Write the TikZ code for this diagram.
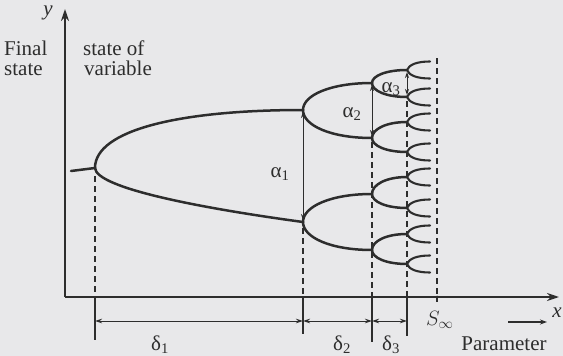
\documentclass[tikz,border=0pt]{standalone}
\usepackage{fontspec}
\setmainfont{Liberation Serif}
\newfontfamily\lbf{Liberation Serif}
\usetikzlibrary{arrows.meta}
\definecolor{ink}{RGB}{45,45,45}
\definecolor{paper}{RGB}{232,232,234}
\begin{document}
\begin{tikzpicture}[x=1pt,y=-1pt,
  branch/.style={line width=2.5pt, draw=ink, line cap=round},
  twig/.style={line width=2.1pt, draw=ink, line cap=round},
  axisline/.style={line width=1.8pt, draw=ink, -{Stealth[length=12pt,width=8pt]}},
  guide/.style={line width=1.4pt, draw=ink, dash pattern=on 6pt off 4pt},
  span/.style={line width=1pt, draw=ink, {Stealth[length=7pt,width=4.5pt]}-{Stealth[length=7pt,width=4.5pt]}},
  gap/.style={line width=1pt, draw=ink, {Stealth[length=6pt,width=4pt]}-{Stealth[length=6pt,width=4pt]}},
  tickline/.style={line width=1.2pt, draw=ink},
  lbl/.style={font=\lbf\fontsize{21}{22}\selectfont, text=ink, inner sep=0pt},
  ilbl/.style={lbl, font=\lbf\fontsize{21}{22}\selectfont\itshape}
]
\fill[paper] (0,0) rectangle (563,356);
\useasboundingbox (0,0) rectangle (563,356);

% axes
\coordinate (O) at (65,297);
\coordinate (ytip) at (65,9);
\coordinate (xtip) at (559,297);
\draw[axisline] (O) -- (ytip);
\draw[axisline] (O) -- (xtip);
\node[ilbl, anchor=base] (ylab) at (48,16) {y};
\node[ilbl, anchor=base] (xlab) at (557,317) {x};

% texts
\node[lbl, anchor=base west] (fs1) at (4,55) {Final};
\node[lbl, anchor=base west] (fs2) at (4,75) {state};
\node[lbl, anchor=base west] (sv1) at (83,55) {state of};
\node[lbl, anchor=base west] (sv2) at (84,75) {variable};

% main points
\coordinate (s0) at (71,171);
\coordinate (B1) at (95,168);
\coordinate (U1) at (303,110);
\coordinate (L1) at (303,222);

\draw[branch] (s0) -- (B1);
\draw[branch] (B1) .. controls (95,130) and (180,110) .. (U1);
\draw[branch] (B1) .. controls (96,188) and (200,208) .. (L1);

% level 2
\foreach \y/\a/\b in {110/83/138, 222/194/250} {
  \draw[branch] (303,\y) .. controls (303,\y-0.55*\y+0.55*\a) and (330.6,\a) .. (372,\a);
  \draw[branch] (303,\y) .. controls (303,\y-0.55*\y+0.55*\b) and (330.6,\b) .. (372,\b);
}
% level 3
\foreach \y/\a/\b in {83/70/97, 138/122/152, 194/177/208, 250/234/264} {
  \draw[branch] (372,\y) .. controls (372,\y-0.55*\y+0.55*\a) and (386,\a) .. (407,\a);
  \draw[branch] (372,\y) .. controls (372,\y-0.55*\y+0.55*\b) and (386,\b) .. (407,\b);
}
% level 4
\foreach \y in {70,97,122,152,177,208,234,264} {
  \draw[twig] (407,\y) .. controls (409,\y-5) and (416,\y-8.5) .. (430,\y-8.5);
  \draw[twig] (407,\y) .. controls (409,\y+5) and (416,\y+8.5) .. (430,\y+8.5);
}

% alpha arrows
\coordinate (a1t) at (303,112);
\coordinate (a1b) at (303,220);
\coordinate (a2t) at (372,85);
\coordinate (a2b) at (372,136);
\coordinate (a3t) at (407,72);
\coordinate (a3b) at (407,95);
\draw[gap] (a1t) -- (a1b);
\draw[gap] (a2t) -- (a2b);
\draw[gap] (a3t) -- (a3b);
\node[lbl, anchor=base] (al1) at (280,177) {α\textsubscript{1}};
\node[lbl, anchor=base] (al2) at (352,117) {α\textsubscript{2}};
\node[lbl, anchor=base] (al3) at (391,92) {α\textsubscript{3}};

% dashed guides
\coordinate (d1) at (95,176);   \coordinate (e1) at (95,297);
\coordinate (d2) at (303,228);  \coordinate (e2) at (303,297);
\coordinate (d3) at (372,142);  \coordinate (e3) at (372,297);
\coordinate (d4) at (407,101);  \coordinate (e4) at (407,297);
\coordinate (d5) at (437,58);   \coordinate (e5) at (437,297);
\draw[guide] (d1) -- (e1);
\draw[guide] (d2) -- (e2);
\draw[guide] (d3) -- (e3);
\draw[guide] (d4) -- (e4);
\draw[guide] (d5) -- (e5);

% ticks below axis
\coordinate (t1) at (95,340);
\coordinate (t2) at (303,334);
\coordinate (t3) at (372,342);
\coordinate (t4) at (407,336);
\coordinate (t5) at (437,302);
\draw[tickline] (e1) -- (t1);
\draw[tickline] (e2) -- (t2);
\draw[tickline] (e3) -- (t3);
\draw[tickline] (e4) -- (t4);
\draw[tickline] (e5) -- (t5);
\fill[ink] (e5) circle (1.5pt);

% spans
\coordinate (p1) at (95,321);
\coordinate (p2) at (303,321);
\coordinate (p3) at (372,321);
\coordinate (p4) at (407,321);
\draw[span] (p1) -- (p2);
\draw[span] (p2) -- (p3);
\draw[span] (p3) -- (p4);
\node[lbl, anchor=base] (dl1) at (160,350) {δ\textsubscript{1}};
\node[lbl, anchor=base] (dl2) at (342,350) {δ\textsubscript{2}};
\node[lbl, anchor=base] (dl3) at (391,350) {δ\textsubscript{3}};
\node[lbl, anchor=base west] (sinf) at (426,325) {$S_\infty$};

% parameter
\node[lbl, anchor=base] (par) at (504,350) {Parameter};
\coordinate (pa) at (508,322);
\coordinate (pb) at (547,322);
\draw[line width=1.2pt, draw=ink, -{Stealth[length=7pt,width=5pt]}] (pa) -- (pb);
\end{tikzpicture}
\end{document}
